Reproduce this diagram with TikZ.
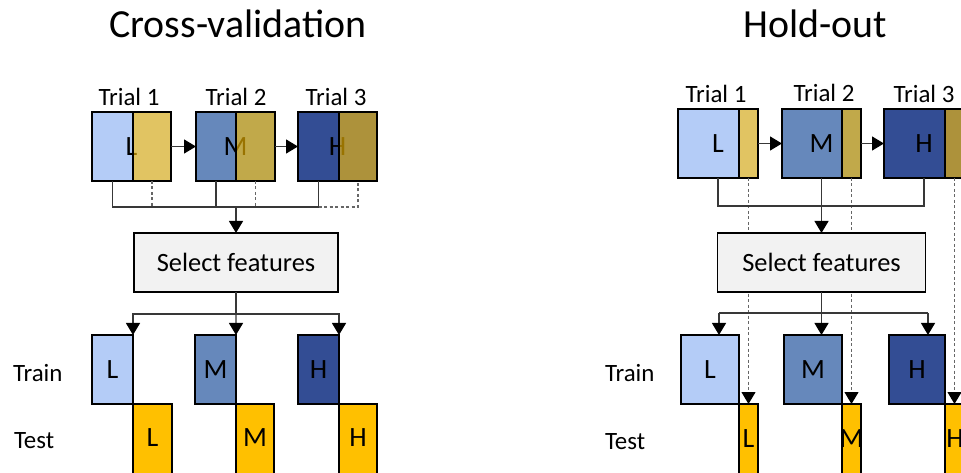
\documentclass[tikz,border=0pt]{standalone}
\usepackage{fontspec}
\setmainfont{Carlito}
\usetikzlibrary{arrows.meta,calc}

\definecolor{blueL}{HTML}{B4CCF7}
\definecolor{blueM}{HTML}{6688BB}
\definecolor{blueH}{HTML}{334D94}
\definecolor{gold}{HTML}{FFC000}
\definecolor{selfill}{HTML}{F2F2F2}

\tikzset{
  every node/.style={inner sep=0pt, outer sep=0pt},
  part/.style={draw=black, line width=1.5bp, minimum height=69bp, anchor=north west,
               font=\fontsize{28}{32}\selectfont},
  overlay/.style={part, fill=gold, fill opacity=0.6, draw opacity=1, text opacity=1},
  testpart/.style={part, fill=gold, minimum height=90bp},
  letter/.style={font=\fontsize{28}{32}\selectfont},
  title/.style={font=\fontsize{40}{46}\selectfont, anchor=base},
  trial/.style={font=\fontsize{25}{30}\selectfont, anchor=base},
  rowlab/.style={font=\fontsize{25}{30}\selectfont, anchor=west},
  selbox/.style={draw=black, line width=1.5bp, fill=selfill, minimum height=59bp,
                 font=\fontsize{26.5}{31}\selectfont},
  conn/.style={draw=black!78, line width=1.2bp},
  dconn/.style={draw=black!60, line width=1.1bp, dash pattern=on 3bp off 2.5bp},
  tip/.style={-{Triangle[width=14bp,length=12bp,color=black]}},
}

\begin{document}
\begin{tikzpicture}[x=1bp,y=-1bp]
\useasboundingbox (0,0) rectangle (961,473);
\clip (0,0) rectangle (961,473);

% ---------------- titles ----------------
\node[title] (tcv) at (238,38) {Cross-validation};
\node[title] (tho) at (815,38) {Hold-out};

% ================= cross-validation =================
% trial boxes: whole trial in blue, test part laid over it in translucent gold
\node[part, fill=blueL, minimum width=79bp] (c1) at (92,112) {L};
\node[overlay, minimum width=38bp] (c1y) at (133,112) {};
\node[part, fill=blueM, minimum width=79bp] (c2) at (196,112) {M};
\node[overlay, minimum width=39bp] (c2y) at (236,112) {};
\node[part, fill=blueH, minimum width=79bp] (c3) at (298,112) {H};
\node[overlay, minimum width=38bp] (c3y) at (339,112) {};

\node[trial] (c1t) at (129,106) {Trial 1};
\node[trial] (c2t) at (236,106) {Trial 2};
\node[trial] (c3t) at (336,106) {Trial 3};

\draw[conn, tip] (c1.east) -- (c2.west);
\draw[conn, tip] (c2.east) -- (c3.west);

% collecting bus: solid from training parts, dashed from test parts
\coordinate (c1s) at ($(c1.south west)!.5!(c1y.south west)$);
\coordinate (c2s) at ($(c2.south west)!.5!(c2y.south west)$);
\coordinate (c3s) at ($(c3.south west)!.5!(c3y.south west)$);
\coordinate (cbus) at (236,207);
\draw[dconn] (c1y.south) |- (c3y.south |- cbus) -- (c3y.south);
\draw[dconn] (c2y.south) -- (c2y.south |- cbus);
\draw[conn] (c1s) |- (c3s |- cbus) -- (c3s);
\draw[conn] (c2s) -- (c2s |- cbus);

\node[selbox, minimum width=204bp] (csel) at (236,262.5) {Select features};
\draw[conn, tip] (cbus) -- (csel.north);

% train / test boxes
\node[part, fill=blueL, minimum width=41bp] (ctrL) at (92,335) {L};
\node[part, fill=blueM, minimum width=41bp] (ctrM) at (195,335) {M};
\node[part, fill=blueH, minimum width=41bp] (ctrH) at (298,335) {H};
\node[testpart, minimum width=39bp] (cteL) at (ctrL.south east) {};
\node[testpart, minimum width=38bp] (cteM) at (ctrM.south east) {};
\node[testpart, minimum width=38bp] (cteH) at (ctrH.south east) {};
\node[letter] (cteLt) at ([yshift=-34bp]cteL.north) {L};
\node[letter] (cteMt) at ([yshift=-34bp]cteM.north) {M};
\node[letter] (cteHt) at ([yshift=-34bp]cteH.north) {H};

\coordinate (cfan) at (236,314);
\draw[conn] (csel.south) -- (cfan);
\draw[conn, tip] (cfan) -| (ctrL.north east);
\draw[conn, tip] (cfan) -| (ctrH.north east);
\draw[conn, tip] (cfan) -- (ctrM.north east);

\node[rowlab] (ctrain) at (13,373) {Train};
\node[rowlab] (ctest) at (14,441) {Test};

% ================= hold-out =================
\node[part, fill=blueL, minimum width=80bp] (r1) at (678,109) {L};
\node[overlay, minimum width=19bp] (r1y) at (739,109) {};
\node[part, fill=blueM, minimum width=79bp] (r2) at (782,109) {M};
\node[overlay, minimum width=19bp] (r2y) at (842,109) {};
\node[part, fill=blueH, minimum width=80bp] (r3) at (884,109) {H};
\node[overlay, minimum width=19bp] (r3y) at (945,109) {};

\node[trial] (r1t) at (716,103) {Trial 1};
\node[trial] (r2t) at (824,102) {Trial 2};
\node[trial] (r3t) at (924,103) {Trial 3};

\draw[conn, tip] (r1.east) -- (r2.west);
\draw[conn, tip] (r2.east) -- (r3.west);

% train / test boxes
\node[part, fill=blueL, minimum width=58bp] (rtrL) at (681,335) {L};
\node[part, fill=blueM, minimum width=58bp] (rtrM) at (784,335) {M};
\node[part, fill=blueH, minimum width=56bp] (rtrH) at (889,335) {H};
\node[testpart, minimum width=19bp] (rteL) at (rtrL.south east) {};
\node[testpart, minimum width=19bp] (rteM) at (rtrM.south east) {};
\node[testpart, minimum width=20bp] (rteH) at (rtrH.south east) {};
\node[letter] (rteLt) at ([yshift=-35bp]rteL.north) {L};
\node[letter] (rteMt) at ([yshift=-35bp]rteM.north) {M};
\node[letter] (rteHt) at ([yshift=-35bp]rteH.north) {H};

% held-out parts go straight to the test boxes
\draw[dconn, tip] (r1y.south) -- (r1y.south |- rteL.north);
\draw[dconn, tip] (r2y.south) -- (r2y.south |- rteM.north);
\draw[dconn, tip] (r3y.south) -- (r3y.south |- rteH.north);

% training parts feed feature selection
\coordinate (rbus) at (821.5,206);
\draw[conn] (r1.south) |- (rbus) -| (r3.south);
\draw[conn] (r2.south) -- (r2.south |- rbus);

\node[selbox, minimum width=208bp] (rsel) at (821.5,262.5) {Select features};
\draw[conn, tip] (rbus) -- (rsel.north);

\coordinate (rfan) at (821.5,313);
\coordinate (rdL) at (719,313);
\coordinate (rdH) at (928,313);
\draw[conn] (rsel.south) -- (rfan);
\draw[conn] (rdL) -- (rdH);
\draw[conn, tip] (rdL) -- (rdL |- rtrL.north);
\draw[conn, tip] (rfan) -- (rfan |- rtrM.north);
\draw[conn, tip] (rdH) -- (rdH |- rtrH.north);

\node[rowlab] (rtrain) at (605,373) {Train};
\node[rowlab] (rtest) at (605,442) {Test};
\end{tikzpicture}
\end{document}
